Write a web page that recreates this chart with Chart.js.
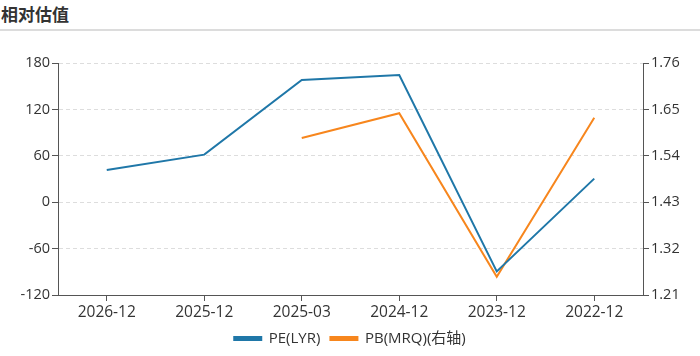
<!DOCTYPE html>
<html>
<head>
<meta charset="utf-8">
<script src="https://cdn.jsdelivr.net/npm/chart.js@4"></script>
<style>
html,body{margin:0;padding:0;background:#fff;}
#wrap{position:relative;width:700px;height:356px;}
#title{position:absolute;left:1px;top:3px;font-family:"Noto Sans CJK SC","Noto Sans",sans-serif;font-weight:bold;font-size:17px;color:#333;line-height:22px;}
#rule{position:absolute;left:0;top:29px;width:700px;height:2px;background:#dcdcdc;}
canvas{position:absolute;left:0;top:0;}
</style>
</head>
<body>
<div id="wrap">
<div id="title">相对估值</div>
<div id="rule"></div>
<canvas id="c" width="700" height="356"></canvas>
</div>
<script>
const categories = ["2026-12","2025-12","2025-03","2024-12","2023-12","2022-12"];
const peValues = [41.5, 61.5, 158, 164.5, -89.5, 30.5];
const pbValues = [null, null, 1.582, 1.641, 1.253, 1.630];
const leftTicks = [-120, -60, 0, 60, 120, 180];
const rightTicks = [1.21, 1.32, 1.43, 1.54, 1.65, 1.76];
const seriesNames = ["PE(LYR)", "PB(MRQ)(右轴)"];

const FONT = '"Open Sans","Noto Sans CJK SC",sans-serif';
const axisColor = '#555';
const textColor = '#333';

new Chart(document.getElementById('c'), {
  type: 'line',
  data: {
    labels: categories,
    datasets: [
      {label: seriesNames[0], data: peValues, yAxisID: 'y', borderColor: '#1f77a8', backgroundColor: '#1f77a8', borderWidth: 2, pointRadius: 0, tension: 0},
      {label: seriesNames[1], data: pbValues, yAxisID: 'y1', borderColor: '#f7861d', backgroundColor: '#f7861d', borderWidth: 2, pointRadius: 0, tension: 0}
    ]
  },
  options: {
    responsive: false,
    animation: false,
    layout: {padding: {top: 63, left: 0, right: 0, bottom: 0}},
    plugins: {
      legend: {
        position: 'bottom',
        labels: {boxWidth: 27, boxHeight: 3, color: textColor, font: {family: FONT, size: 15}, padding: 10}
      },
      tooltip: {enabled: false}
    },
    scales: {
      x: {
        offset: true,
        afterFit: (s) => { s.height = 26; },
        grid: {display: true, drawOnChartArea: false, drawTicks: true, tickLength: 6, tickColor: axisColor, offset: false},
        border: {display: true, color: axisColor, width: 1},
        ticks: {color: textColor, font: {family: FONT, size: 15.5}, padding: 2, maxRotation: 0}
      },
      y: {
        position: 'left',
        min: -120, max: 180,
        afterBuildTicks: (s) => { s.ticks = leftTicks.map(v => ({value: v})); },
        afterFit: (s) => { s.width = 58; },
        grid: {color: '#dddddd', drawTicks: true, tickLength: 6, tickColor: axisColor, tickBorderDash: [], tickWidth: 1},
        border: {display: true, color: axisColor, width: 1, dash: [4, 3]},
        ticks: {color: textColor, font: {family: FONT, size: 14.5}, padding: 2}
      },
      y1: {
        position: 'right',
        min: 1.21, max: 1.76,
        afterBuildTicks: (s) => { s.ticks = rightTicks.map(v => ({value: v})); },
        afterFit: (s) => { s.width = 57; },
        grid: {drawOnChartArea: false, drawTicks: true, tickLength: 6, tickColor: axisColor},
        border: {display: true, color: axisColor, width: 1},
        ticks: {color: textColor, font: {family: FONT, size: 14.5}, padding: 2, callback: (v) => Number(v).toFixed(2)}
      }
    }
  }
});
</script>
</body>
</html>
